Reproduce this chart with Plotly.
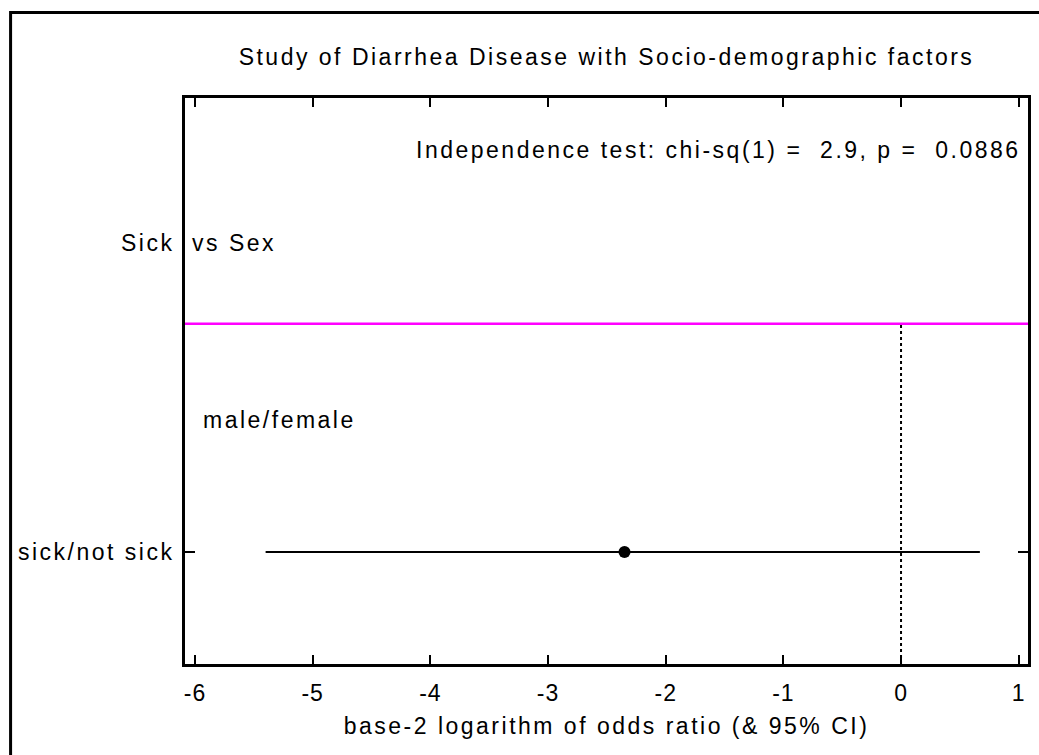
import plotly.graph_objects as go

# Odds-ratio row (base-2 log scale) with its 95% confidence interval
row_labels = ["sick/not sick"]
row_pos = [1]
log2_or = [-2.35]
ci_low = [-5.40]
ci_high = [0.67]

# Group header and level text
group_name = "Sick"
group_factor = "vs Sex"
level_label = "male/female"
level_pos = 2
group_pos = 3.343
separator_pos = 2.73
test_pos = 4.048
chi_sq = 2.9
p_value = 0.0886
x_ticks = [-6, -5, -4, -3, -2, -1, 0, 1]

FONT = "Liberation Sans, Arial, sans-serif"
FS = 23
LS = 2.5  # letter spacing in px


def sp(text, ls=LS):
    return f'<span style="letter-spacing:{ls}px">{text}</span>'


nb = "\u00a0"
test_text = (f"Independence test: chi-sq(1) ={nb} {chi_sq:.1f}, "
             f"p ={nb} {p_value:.4f}")

fig = go.Figure()

fig.add_trace(go.Scatter(
    x=log2_or, y=row_pos, mode="markers",
    marker=dict(color="black", size=12, symbol="circle"),
    error_x=dict(type="data", symmetric=False,
                 array=[h - e for h, e in zip(ci_high, log2_or)],
                 arrayminus=[e - l for e, l in zip(log2_or, ci_low)],
                 color="black", thickness=2, width=0),
    showlegend=False, hoverinfo="skip",
))

y_range = [0.15, 4.442]

# magenta separator between group header and rows
fig.add_shape(type="line", xref="paper", yref="y", x0=0, x1=1,
              y0=separator_pos, y1=separator_pos,
              line=dict(color="#FF00FF", width=2.5), layer="above")
# reference line at log2(OR) = 0
fig.add_shape(type="line", xref="x", yref="y", x0=0, x1=0,
              y0=y_range[0], y1=separator_pos,
              line=dict(color="black", width=2, dash="dot"), layer="above")
# outer frame of the figure
fig.add_shape(type="rect", xref="paper", yref="paper",
              x0=-0.2069, x1=1.2, y0=-0.3, y1=1.151,
              line=dict(color="black", width=3))

txt_font = dict(size=FS, color="black", family=FONT)
fig.add_annotation(xref="paper", yref="y", x=1, y=test_pos,
                   xshift=-5, text=sp(test_text), showarrow=False,
                   xanchor="right", yanchor="middle", font=txt_font)
fig.add_annotation(xref="paper", yref="y", x=0, y=group_pos,
                   xshift=-9, text=sp(group_name), showarrow=False,
                   xanchor="right", yanchor="middle", font=txt_font)
fig.add_annotation(xref="paper", yref="y", x=0, y=group_pos,
                   xshift=5, text=sp(group_factor), showarrow=False,
                   xanchor="left", yanchor="middle", font=txt_font)
fig.add_annotation(xref="paper", yref="y", x=0, y=level_pos,
                   xshift=16, text=sp(level_label), showarrow=False,
                   xanchor="left", yanchor="middle", font=txt_font)

fig.update_layout(
    width=1039, height=755,
    margin=dict(l=185, r=8, t=98, b=91),
    paper_bgcolor="white", plot_bgcolor="white",
    font=dict(family=FONT, size=FS, color="black"),
    title=dict(text=sp("Study of Diarrhea Disease with Socio-demographic factors"),
               x=0.5, xref="paper", xanchor="center",
               y=1 - 57 / 755, yanchor="middle", font=txt_font),
    xaxis=dict(range=[-6.085, 1.079], tickvals=x_ticks,
               ticktext=[sp(str(v), 1) for v in x_ticks],
               ticks="inside", ticklen=9, tickwidth=2, tickcolor="black",
               showline=True, linecolor="black", linewidth=3, mirror="ticks",
               showgrid=False, zeroline=False, ticklabelstandoff=6,
               title=dict(text=sp("base-2 logarithm of odds ratio (&amp; 95% CI)"),
                          standoff=14, font=dict(size=FS)),
               tickfont=dict(size=FS)),
    yaxis=dict(range=y_range, tickvals=row_pos,
               ticktext=[sp(t) for t in row_labels],
               ticks="inside", ticklen=10, tickwidth=2, tickcolor="black",
               showline=True, linecolor="black", linewidth=3, mirror="ticks",
               showgrid=False, zeroline=False, ticklabelstandoff=3,
               tickfont=dict(size=FS)),
)

fig.write_html("out.html")
